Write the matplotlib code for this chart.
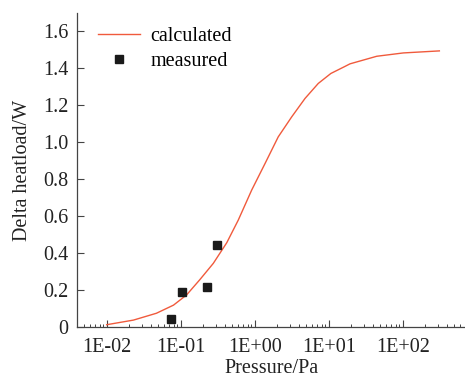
import matplotlib
matplotlib.use("Agg")
import matplotlib.pyplot as plt

# calculated curve
p_calc = [0.010, 0.023, 0.047, 0.080, 0.12, 0.18, 0.276, 0.42, 0.60, 0.91,
          1.38, 2.08, 3.16, 4.79, 7.23, 10.7, 16.2, 19.4, 44.6, 102, 313]
q_calc = [0.014, 0.039, 0.076, 0.12, 0.175, 0.256, 0.346, 0.458, 0.58, 0.742,
          0.886, 1.03, 1.138, 1.238, 1.319, 1.373, 1.409, 1.425, 1.466, 1.484, 1.495]

# measured points
p_meas = [0.074, 0.105, 0.226, 0.306]
q_meas = [0.046, 0.191, 0.216, 0.445]

x_ticks = [1e-2, 1e-1, 1e0, 1e1, 1e2]
x_labels = ["1E-02", "1E-01", "1E+00", "1E+01", "1E+02"]
y_ticks = [0, 0.2, 0.4, 0.6, 0.8, 1.0, 1.2, 1.4, 1.6]
y_labels = ["0", "0.2", "0.4", "0.6", "0.8", "1.0", "1.2", "1.4", "1.6"]

plt.rcParams['font.family'] = ['Liberation Serif', 'DejaVu Serif']
plt.rcParams['font.size'] = 14.5

fig = plt.figure(figsize=(4.65, 3.79), dpi=100)
ax = fig.add_axes([0.1656, 0.1364, 0.8344, 0.8293])

ax.plot(p_calc, q_calc, color='#f05a3c', lw=1.0, label='calculated')
ax.plot(p_meas, q_meas, 's', color='#1a1a1a', ms=5.5, label='measured')

ax.set_xscale('log')
ax.set_xlim(0.00397, 695)
ax.set_ylim(0, 1.7)
ax.set_xticks(x_ticks)
ax.set_xticklabels(x_labels)
ax.set_yticks(y_ticks)
ax.set_yticklabels(y_labels)

ax.spines['top'].set_visible(False)
ax.spines['right'].set_visible(False)
for s in ['left', 'bottom']:
    ax.spines[s].set_color('#444444')
    ax.spines[s].set_linewidth(0.9)

ax.tick_params(axis='both', which='major', direction='in', length=5,
               width=0.8, color='#444444', labelcolor='#222222')
ax.tick_params(axis='x', which='major', pad=8)
ax.tick_params(axis='y', which='major', pad=6)
ax.tick_params(axis='x', which='minor', direction='in', length=2.5,
               width=0.7, color='#444444')
ax.tick_params(axis='y', which='minor', left=False)

ax.set_xlabel('Pressure/Pa', color='#222222', labelpad=1)
ax.set_ylabel('Delta heatload/W', color='#222222', labelpad=8)

ax.legend(loc='upper left', bbox_to_anchor=(0.054, 0.955), frameon=False,
          borderpad=0, handlelength=2.1, handletextpad=0.5, labelspacing=0.3,
          borderaxespad=0)

fig.savefig('out.png', dpi=100)
